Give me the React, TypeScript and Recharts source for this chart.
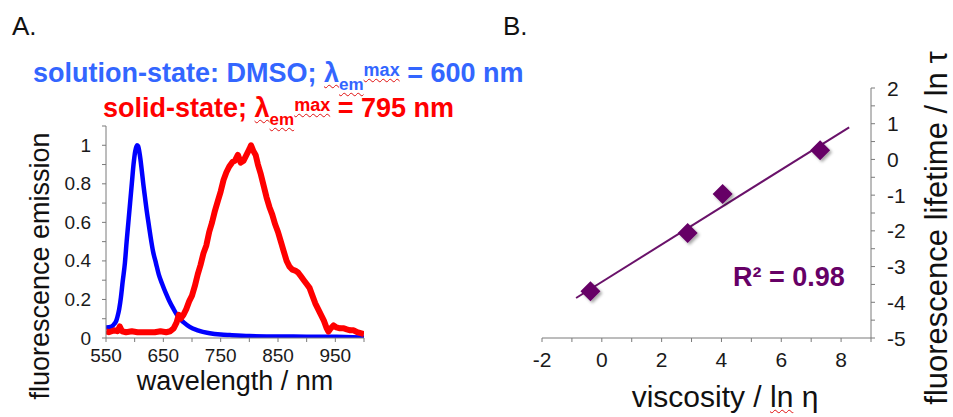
import React from 'react';
import { LineChart, Line, XAxis, YAxis, ComposedChart, Scatter } from 'recharts';

// ---------- Panel A data ----------
const blueWavelength = [550, 555, 560, 565, 568, 570, 573, 576, 579, 583, 586, 589, 592, 595, 598, 601, 604, 606, 609, 612, 615, 618, 621, 624, 628, 632, 637, 642, 648, 654, 660, 667, 676, 686, 696, 710, 731, 750, 766, 800, 850, 900, 950, 980, 1000];
const blueEmission = [0.055, 0.056, 0.06, 0.075, 0.09, 0.11, 0.15, 0.21, 0.29, 0.39, 0.5, 0.6, 0.7, 0.8, 0.9, 0.97, 1.0, 0.995, 0.95, 0.88, 0.8, 0.73, 0.66, 0.6, 0.52, 0.45, 0.39, 0.33, 0.28, 0.235, 0.195, 0.155, 0.11, 0.08, 0.058, 0.04, 0.025, 0.018, 0.015, 0.01, 0.008, 0.007, 0.006, 0.004, 0.002];

const redWavelength = [550, 555, 560, 565, 570, 574, 578, 585, 595, 605, 615, 625, 635, 645, 655, 662, 668, 673, 677, 680, 685, 690, 695, 700, 705, 710, 715, 720, 725, 730, 735, 740, 745, 750, 755, 760, 765, 771, 775, 780, 785, 790, 795, 800, 803, 807, 811, 815, 820, 825, 830, 835, 840, 845, 850, 855, 860, 865, 870, 875, 880, 885, 890, 895, 900, 905, 910, 915, 920, 925, 930, 935, 938, 942, 947, 952, 958, 965, 970, 976, 982, 988, 994, 1000];
const redEmission = [0.035, 0.03, 0.035, 0.04, 0.035, 0.06, 0.035, 0.03, 0.035, 0.03, 0.03, 0.03, 0.03, 0.035, 0.03, 0.035, 0.05, 0.08, 0.12, 0.1, 0.12, 0.15, 0.19, 0.22, 0.27, 0.33, 0.38, 0.44, 0.48, 0.55, 0.6, 0.66, 0.71, 0.76, 0.82, 0.86, 0.89, 0.915, 0.92, 0.95, 0.91, 0.92, 0.95, 0.98, 1.0, 0.97, 0.95, 0.9, 0.85, 0.79, 0.73, 0.68, 0.64, 0.59, 0.55, 0.5, 0.45, 0.4, 0.37, 0.355, 0.35, 0.34, 0.32, 0.3, 0.28, 0.26, 0.22, 0.18, 0.15, 0.12, 0.09, 0.05, 0.033, 0.05, 0.065, 0.055, 0.05, 0.05, 0.045, 0.04, 0.04, 0.03, 0.025, 0.02];

const aXTicks = [550, 600, 650, 700, 750, 800, 850, 900, 950, 1000];
const aXLabels = [550, 650, 750, 850, 950];
const aYTicks = [0, 0.1, 0.2, 0.3, 0.4, 0.5, 0.6, 0.7, 0.8, 0.9, 1.0, 1.1];
const aYLabels = [0, 0.2, 0.4, 0.6, 0.8, 1];

// ---------- Panel B data ----------
const viscosityLn = [-0.38, 2.87, 4.04, 7.3];
const lifetimeLn = [-3.69, -2.06, -0.97, 0.26];
const fitViscosity = [-0.86, 8.27];
const fitLifetime = [-3.88, 0.9];

const bXTicks = [-2, -1, 0, 1, 2, 3, 4, 5, 6, 7, 8, 9];
const bXLabels = [-2, 0, 2, 4, 6, 8];
const bYTicks = [-5, -4.5, -4, -3.5, -3, -2.5, -2, -1.5, -1, -0.5, 0, 0.5, 1, 1.5, 2];
const bYLabels = [-5, -4, -3, -2, -1, 0, 1, 2];

const blueData = blueWavelength.map((x, i) => ({ x, y: blueEmission[i] }));
const redData = redWavelength.map((x, i) => ({ x, y: redEmission[i] }));
const pointData = viscosityLn.map((x, i) => ({ x, y: lifetimeLn[i] }));
const fitData = fitViscosity.map((x, i) => ({ x, y: fitLifetime[i] }));

const FONT = '"Liberation Sans", Arial, Helvetica, sans-serif';
const AXIS = '#7a7a7a';
const TICKTXT = '#1a1a1a';
const PURPLE = '#660066';

const has = (arr: number[], v: number) => arr.some((a) => Math.abs(a - v) < 1e-6);

const ATickX = (p: any) => {
  const { x, y, payload } = p;
  const v = payload.value;
  return (
    <g>
      <line x1={x} y1={y} x2={x} y2={y + 4} stroke={AXIS} strokeWidth={1} />
      {has(aXLabels, v) && (
        <text x={x} y={y + 24} textAnchor="middle" fontSize={19} fill={TICKTXT} fontFamily={FONT}>
          {String(v)}
        </text>
      )}
    </g>
  );
};

const ATickY = (p: any) => {
  const { x, y, payload } = p;
  const v = payload.value;
  return (
    <g>
      <line x1={x - 4} y1={y} x2={x} y2={y} stroke={AXIS} strokeWidth={1} />
      {has(aYLabels, v) && (
        <text x={x - 15} y={y + 6.5} textAnchor="end" fontSize={19} fill={TICKTXT} fontFamily={FONT}>
          {String(Math.round(v * 10) / 10)}
        </text>
      )}
    </g>
  );
};

const BTickX = (p: any) => {
  const { x, y, payload } = p;
  const v = payload.value;
  return (
    <g>
      <line x1={x} y1={y} x2={x} y2={y + 4} stroke={AXIS} strokeWidth={1} />
      {has(bXLabels, v) && (
        <text x={x} y={y + 29} textAnchor="middle" fontSize={21} fill={TICKTXT} fontFamily={FONT}>
          {String(v)}
        </text>
      )}
    </g>
  );
};

const BTickY = (p: any) => {
  const { x, y, payload } = p;
  const v = payload.value;
  return (
    <g>
      <line x1={x} y1={y} x2={x + 4} y2={y} stroke={AXIS} strokeWidth={1} />
      {has(bYLabels, v) && (
        <text x={x + 16} y={y + 7.5} textAnchor="start" fontSize={21} fill={TICKTXT} fontFamily={FONT}>
          {String(v)}
        </text>
      )}
    </g>
  );
};

const Diamond = (p: any) => {
  const { cx, cy } = p;
  const r = 10;
  return (
    <polygon
      points={`${cx},${cy - r} ${cx + r},${cy} ${cx},${cy + r} ${cx - r},${cy}`}
      fill={PURPLE}
      filter="url(#dshadow)"
    />
  );
};

const base = (size: number) => 0.8465 * size;

const Txt = ({ x, baseline, size, children, weight = 'normal', color = '#111', center = false }: any) => (
  <div
    style={{
      position: 'absolute',
      left: x,
      top: baseline - base(size),
      fontSize: size,
      lineHeight: 1,
      fontWeight: weight,
      color,
      whiteSpace: 'nowrap',
      fontFamily: FONT,
      transform: center ? 'translateX(-50%)' : undefined,
    }}
  >
    {children}
  </div>
);

const RotTxt = ({ cx, cy, size, children, color = '#111' }: any) => (
  <div
    style={{
      position: 'absolute',
      left: cx,
      top: cy,
      fontSize: size,
      lineHeight: 1,
      color,
      whiteSpace: 'nowrap',
      fontFamily: FONT,
      transform: 'translate(-50%, -50%) rotate(-90deg)',
    }}
  >
    {children}
  </div>
);

const wavy = { textDecoration: 'underline wavy #e01010', textDecorationThickness: '1px', textUnderlineOffset: '2px' };

const Sub = ({ children }: any) => (
  <span style={{ fontSize: 17, position: 'relative', top: 8, ...wavy }}>{children}</span>
);
const Sup = ({ children }: any) => (
  <span style={{ fontSize: 18, position: 'relative', top: -6, ...wavy }}>{children}</span>
);

export default function App() {
  return (
    <div
      style={{
        position: 'absolute',
        left: 0,
        top: 0,
        width: 953,
        height: 417,
        background: '#fff',
        overflow: 'hidden',
        fontFamily: FONT,
      }}
    >
      <svg width={0} height={0} style={{ position: 'absolute' }}>
        <defs>
          <filter id="dshadow" x="-50%" y="-50%" width="200%" height="200%">
            <feDropShadow dx={2} dy={2} stdDeviation={1.5} floodColor="#000" floodOpacity={0.35} />
          </filter>
        </defs>
      </svg>

      {/* Panel A chart */}
      <div style={{ position: 'absolute', left: 0, top: 0 }}>
        <LineChart width={380} height={417} margin={{ top: 126, right: 16, bottom: 0, left: 0 }}>
          <XAxis
            type="number"
            dataKey="x"
            domain={[550, 1000]}
            ticks={aXTicks}
            interval={0}
            allowDataOverflow
            tickSize={0}
            tickMargin={0}
            tickLine={false}
            axisLine={{ stroke: AXIS }}
            tick={(p: any) => <ATickX {...p} />}
            height={79}
          />
          <YAxis
            type="number"
            dataKey="y"
            domain={[0, 1.1]}
            ticks={aYTicks}
            interval={0}
            allowDataOverflow
            tickSize={0}
            tickMargin={0}
            tickLine={false}
            axisLine={{ stroke: AXIS }}
            tick={(p: any) => <ATickY {...p} />}
            width={106}
          />
          <Line data={blueData} dataKey="y" type="monotone" stroke="#0000ff" strokeWidth={4.5} dot={false} isAnimationActive={false} />
          <Line data={redData} dataKey="y" type="linear" stroke="#ff0000" strokeWidth={6} strokeLinejoin="round" dot={false} isAnimationActive={false} />
        </LineChart>
      </div>

      {/* Panel B chart */}
      <div style={{ position: 'absolute', left: 500, top: 0 }}>
        <ComposedChart width={453} height={417} margin={{ top: 88, right: 0, bottom: 0, left: 42 }}>
          <XAxis
            type="number"
            dataKey="x"
            domain={[-2, 9]}
            ticks={bXTicks}
            interval={0}
            allowDataOverflow
            tickSize={0}
            tickMargin={0}
            tickLine={false}
            axisLine={{ stroke: AXIS }}
            tick={(p: any) => <BTickX {...p} />}
            height={79}
          />
          <YAxis
            type="number"
            dataKey="y"
            orientation="right"
            domain={[-5, 2]}
            ticks={bYTicks}
            interval={0}
            allowDataOverflow
            tickSize={0}
            tickMargin={0}
            tickLine={false}
            axisLine={{ stroke: AXIS }}
            tick={(p: any) => <BTickY {...p} />}
            width={82}
          />
          <Line data={fitData} dataKey="y" type="linear" stroke="#6a126a" strokeWidth={2} dot={false} isAnimationActive={false} />
          <Scatter data={pointData} dataKey="y" fill={PURPLE} shape={(p: any) => <Diamond {...p} />} isAnimationActive={false} />
        </ComposedChart>
      </div>

      {/* Texts */}
      <Txt x={12} baseline={35} size={26}>A.</Txt>
      <Txt x={503} baseline={35} size={26}>B.</Txt>

      <Txt x={33} baseline={83} size={27} weight="bold" color="#3366ff">
        solution-state: DMSO; <span style={wavy}>λ</span>
        <Sub>em</Sub>
        <Sup>max</Sup> = 600 nm
      </Txt>
      <Txt x={103} baseline={118} size={27} weight="bold" color="#ff0000">
        solid-state; <span style={wavy}>λ</span>
        <Sub>em</Sub>
        <Sup>max</Sup> = 795 nm
      </Txt>

      <RotTxt cx={40} cy={266} size={27}>fluorescence emission</RotTxt>
      <Txt x={235} baseline={391} size={27} center>wavelength / nm</Txt>

      <Txt x={725} baseline={407} size={30} center>
        viscosity / <span style={wavy}>ln</span> η
      </Txt>
      <RotTxt cx={936} cy={228} size={31}>fluorescence lifetime / ln τ</RotTxt>

      <Txt x={733} baseline={287} size={27} weight="bold" color={PURPLE}>R² = 0.98</Txt>
    </div>
  );
}
